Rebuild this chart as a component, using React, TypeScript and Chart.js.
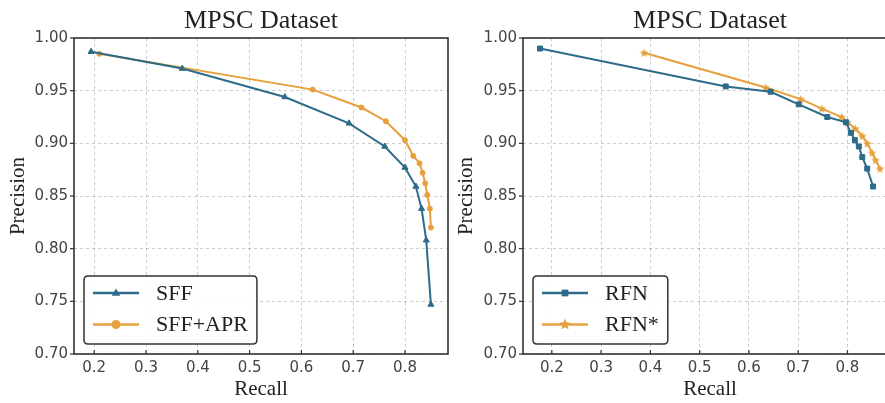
import React, { useEffect, useRef } from "react";
import { Chart, registerables } from "chart.js";
Chart.register(...registerables);

const TITLE = "MPSC Dataset";
const X_LABEL = "Recall";
const Y_LABEL = "Precision";
const X_TICKS = [0.2, 0.3, 0.4, 0.5, 0.6, 0.7, 0.8];
const Y_TICKS = [0.7, 0.75, 0.8, 0.85, 0.9, 0.95, 1.0];

const SFF_RECALL = [0.194, 0.370, 0.568, 0.692, 0.761, 0.800, 0.821, 0.832, 0.841, 0.850];
const SFF_PRECISION = [0.987, 0.971, 0.944, 0.919, 0.897, 0.877, 0.859, 0.838, 0.808, 0.747];
const SFF_APR_RECALL = [0.210, 0.622, 0.716, 0.763, 0.800, 0.816, 0.828, 0.834, 0.839, 0.843, 0.848, 0.850];
const SFF_APR_PRECISION = [0.985, 0.951, 0.934, 0.921, 0.903, 0.888, 0.881, 0.872, 0.862, 0.851, 0.838, 0.820];
const RFN_RECALL = [0.176, 0.553, 0.644, 0.701, 0.759, 0.797, 0.807, 0.815, 0.823, 0.830, 0.840, 0.852];
const RFN_PRECISION = [0.990, 0.954, 0.949, 0.937, 0.925, 0.920, 0.910, 0.903, 0.897, 0.887, 0.876, 0.859];
const RFN_STAR_RECALL = [0.387, 0.634, 0.705, 0.748, 0.788, 0.800, 0.816, 0.830, 0.840, 0.850, 0.857, 0.866];
const RFN_STAR_PRECISION = [0.986, 0.953, 0.942, 0.933, 0.925, 0.920, 0.914, 0.907, 0.900, 0.891, 0.884, 0.876];

const BLUE = "#2d6b8a";
const ORANGE = "#e6a03c";
const SERIF = '"Liberation Serif", "Times New Roman", serif';
const SANS = '"DejaVu Sans", sans-serif';
const H = 403;
const PLOT_TOP = 38;
const PLOT_BOTTOM = 354;

function drawMarker(ctx: CanvasRenderingContext2D, style: string, x: number, y: number, r: number, color: string) {
  ctx.save();
  ctx.fillStyle = color;
  ctx.strokeStyle = color;
  ctx.beginPath();
  if (style === "triangle") {
    ctx.moveTo(x, y - r);
    ctx.lineTo(x + r * 0.95, y + r * 0.6);
    ctx.lineTo(x - r * 0.95, y + r * 0.6);
    ctx.closePath();
  } else if (style === "circle") {
    ctx.arc(x, y, r, 0, Math.PI * 2);
  } else if (style === "rect") {
    ctx.rect(x - r * 0.75, y - r * 0.75, r * 1.5, r * 1.5);
  } else {
    for (let i = 0; i < 10; i++) {
      const a = -Math.PI / 2 + (i * Math.PI) / 5;
      const rr = i % 2 === 0 ? r : r * 0.45;
      const px = x + rr * Math.cos(a);
      const py = y + rr * Math.sin(a);
      if (i === 0) ctx.moveTo(px, py);
      else ctx.lineTo(px, py);
    }
    ctx.closePath();
  }
  ctx.fill();
  ctx.restore();
}

function makeStar(r: number, color: string) {
  const c = document.createElement("canvas");
  const s = Math.ceil(r * 2 + 2);
  c.width = s;
  c.height = s;
  const ctx = c.getContext("2d")!;
  drawMarker(ctx, "star", s / 2, s / 2 + 0.5, r, color);
  return c;
}

type Series = { label: string; recall: number[]; precision: number[]; color: string; marker: string };
type Cfg = {
  left: number;
  width: number;
  padRight: number;
  axisW: number;
  xMin: number;
  xMax: number;
  yTitlePad: number;
  series: Series[];
};

function buildConfig(cfg: Cfg): any {
  const deco = {
    id: "deco",
    afterDatasetsDraw(chart: any) {
      const { ctx, chartArea } = chart;
      const { left, right, top, bottom } = chartArea;
      ctx.save();
      ctx.strokeStyle = "#333";
      ctx.lineWidth = 1.6;
      ctx.strokeRect(left, top, right - left, bottom - top);
      ctx.lineWidth = 1.2;
      const ys = chart.scales.y;
      const xs = chart.scales.x;
      Y_TICKS.forEach((v) => {
        const py = ys.getPixelForValue(v);
        ctx.beginPath();
        ctx.moveTo(left - 4, py);
        ctx.lineTo(left, py);
        ctx.stroke();
      });
      X_TICKS.forEach((v) => {
        const px = xs.getPixelForValue(v);
        ctx.beginPath();
        ctx.moveTo(px, bottom);
        ctx.lineTo(px, bottom - 4);
        ctx.stroke();
      });
      ctx.restore();
    },
    afterDraw(chart: any) {
      const { ctx, chartArea } = chart;
      const { left, right, bottom } = chartArea;
      ctx.save();
      // title
      ctx.font = `26px ${SERIF}`;
      ctx.fillStyle = "#222";
      ctx.textAlign = "center";
      ctx.textBaseline = "middle";
      ctx.fillText(TITLE, (left + right) / 2, 21);
      // legend
      ctx.font = `22px ${SERIF}`;
      const tw = Math.max(...cfg.series.map((s) => ctx.measureText(s.label).width));
      const bw = 9 + 46 + 17 + tw + 9;
      const bh = 68;
      const bx = left + 10;
      const by = bottom - 10 - bh;
      const rad = 4;
      ctx.beginPath();
      ctx.moveTo(bx + rad, by);
      ctx.lineTo(bx + bw - rad, by);
      ctx.quadraticCurveTo(bx + bw, by, bx + bw, by + rad);
      ctx.lineTo(bx + bw, by + bh - rad);
      ctx.quadraticCurveTo(bx + bw, by + bh, bx + bw - rad, by + bh);
      ctx.lineTo(bx + rad, by + bh);
      ctx.quadraticCurveTo(bx, by + bh, bx, by + bh - rad);
      ctx.lineTo(bx, by + rad);
      ctx.quadraticCurveTo(bx, by, bx + rad, by);
      ctx.closePath();
      ctx.fillStyle = "rgba(255,255,255,0.9)";
      ctx.fill();
      ctx.strokeStyle = "#333";
      ctx.lineWidth = 1.5;
      ctx.stroke();
      cfg.series.forEach((s, i) => {
        const ry = by + 17 + i * 31.5;
        ctx.strokeStyle = s.color;
        ctx.lineWidth = 2.5;
        ctx.beginPath();
        ctx.moveTo(bx + 9, ry);
        ctx.lineTo(bx + 55, ry);
        ctx.stroke();
        drawMarker(ctx, s.marker, bx + 32, ry, s.marker === "star" ? 6 : 4.5, s.color);
        ctx.fillStyle = "#222";
        ctx.textAlign = "left";
        ctx.textBaseline = "middle";
        ctx.fillText(s.label, bx + 72, ry + 1);
      });
      ctx.restore();
    },
  };

  return {
    type: "line",
    data: {
      datasets: cfg.series.map((s) => ({
        label: s.label,
        data: s.recall.map((x, i) => ({ x, y: s.precision[i] })),
        borderColor: s.color,
        backgroundColor: s.color,
        borderWidth: 2,
        tension: 0,
        fill: false,
        pointStyle: s.marker === "star" ? makeStar(4.5, s.color) : s.marker,
        pointRadius: s.marker === "circle" ? 2.5 : 3.5,
        pointBackgroundColor: s.color,
        pointBorderColor: s.color,
        pointBorderWidth: 1,
      })),
    },
    options: {
      animation: false,
      responsive: false,
      devicePixelRatio: 1,
      layout: { padding: { left: 0, top: PLOT_TOP, right: cfg.padRight, bottom: 0 } },
      plugins: {
        legend: { display: false },
        title: { display: false },
        tooltip: { enabled: false },
      },
      scales: {
        x: {
          type: "linear",
          min: cfg.xMin,
          max: cfg.xMax,
          afterBuildTicks: (axis: any) => {
            axis.ticks = X_TICKS.map((v) => ({ value: v }));
          },
          afterFit: (axis: any) => {
            axis.height = H - PLOT_BOTTOM;
          },
          grid: { color: "rgba(0,0,0,0.2)", lineWidth: 1, drawTicks: false },
          border: { display: false, dash: [3, 3] },
          ticks: {
            padding: 5,
            color: "#444",
            font: { family: SANS, size: 15 },
            callback: (v: any) => Number(v).toFixed(1),
            maxRotation: 0,
          },
          title: {
            display: true,
            text: X_LABEL,
            color: "#222",
            font: { family: SERIF, size: 21 },
            padding: { top: 0, bottom: 1 },
          },
        },
        y: {
          type: "linear",
          min: 0.7,
          max: 1.0,
          afterBuildTicks: (axis: any) => {
            axis.ticks = Y_TICKS.map((v) => ({ value: v }));
          },
          afterFit: (axis: any) => {
            axis.width = cfg.axisW;
          },
          grid: { color: "rgba(0,0,0,0.2)", lineWidth: 1, drawTicks: false },
          border: { display: false, dash: [3, 3] },
          ticks: {
            padding: 6,
            color: "#444",
            font: { family: SANS, size: 15 },
            callback: (v: any) => Number(v).toFixed(2),
          },
          title: {
            display: true,
            text: Y_LABEL,
            color: "#222",
            font: { family: SERIF, size: 21 },
            padding: { top: cfg.yTitlePad, bottom: 0 },
          },
        },
      },
    },
    plugins: [deco],
  };
}

function PRChart({ cfg }: { cfg: Cfg }) {
  const ref = useRef<HTMLCanvasElement>(null);
  useEffect(() => {
    const chart = new Chart(ref.current!, buildConfig(cfg));
    return () => chart.destroy();
  }, []);
  return (
    <canvas
      ref={ref}
      width={cfg.width}
      height={H}
      style={{ position: "absolute", left: cfg.left, top: 0, width: cfg.width, height: H }}
    />
  );
}

const LEFT_CFG: Cfg = {
  left: 0,
  width: 455,
  padRight: 7,
  axisW: 74,
  xMin: 0.161,
  xMax: 0.883,
  yTitlePad: 6,
  series: [
    { label: "SFF", recall: SFF_RECALL, precision: SFF_PRECISION, color: BLUE, marker: "triangle" },
    { label: "SFF+APR", recall: SFF_APR_RECALL, precision: SFF_APR_PRECISION, color: ORANGE, marker: "circle" },
  ],
};

const RIGHT_CFG: Cfg = {
  left: 450,
  width: 460,
  padRight: 13,
  axisW: 73,
  xMin: 0.1415,
  xMax: 0.9005,
  yTitlePad: 4,
  series: [
    { label: "RFN", recall: RFN_RECALL, precision: RFN_PRECISION, color: BLUE, marker: "rect" },
    { label: "RFN*", recall: RFN_STAR_RECALL, precision: RFN_STAR_PRECISION, color: ORANGE, marker: "star" },
  ],
};

export default function App() {
  return (
    <div
      style={{
        position: "fixed",
        left: 0,
        top: 0,
        width: 885,
        height: H,
        overflow: "hidden",
        background: "#fff",
      }}
    >
      <PRChart cfg={LEFT_CFG} />
      <PRChart cfg={RIGHT_CFG} />
    </div>
  );
}
